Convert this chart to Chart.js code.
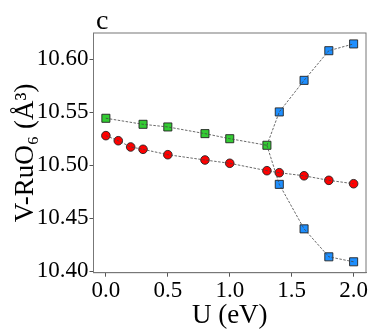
<!DOCTYPE html>
<html>
<head>
<meta charset="utf-8">
<script src="https://cdn.jsdelivr.net/npm/chart.js@4.4.0/dist/chart.umd.min.js"></script>
<style>
  body { margin: 0; background: #fff; }
  #wrap { width: 374px; height: 334px; }
</style>
</head>
<body>
<div id="wrap"><canvas id="grafico" width="374" height="334"></canvas></div>
<script>
// valores
const uVermelho = [0, 0.1, 0.2, 0.3, 0.5, 0.8, 1.0, 1.3, 1.4, 1.6, 1.8, 2.0];
const vVermelho = [10.5279, 10.5231, 10.5172, 10.515, 10.5099, 10.5049, 10.5018, 10.4948, 10.4929, 10.49, 10.4857, 10.4825];
const uVerde = [0, 0.3, 0.5, 0.8, 1.0, 1.3];
const vVerde = [10.5443, 10.5386, 10.5361, 10.5298, 10.525, 10.5188];
const uAzul = [1.4, 1.6, 1.8, 2.0];
const vAzulCima = [10.5503, 10.5801, 10.6081, 10.6145];
const vAzulBaixo = [10.4819, 10.4399, 10.4135, 10.4088];

const ticksX = [0, 0.5, 1.0, 1.5, 2.0];
const ticksY = [10.40, 10.45, 10.50, 10.55, 10.60];

const fonte = "'Liberation Serif', 'DejaVu Serif', serif";

function pares(xs, ys) {
  return xs.map((x, i) => ({ x: x, y: ys[i] }));
}

// ramos azuis partem do ultimo ponto verde
const ultimoVerde = { x: uVerde[uVerde.length - 1], y: vVerde[vVerde.length - 1] };
const linhaCima = [ultimoVerde].concat(pares(uAzul, vAzulCima));
const linhaBaixo = [ultimoVerde].concat(pares(uAzul, vAzulBaixo));

function linha(dados) {
  return {
    data: dados,
    showLine: true,
    borderColor: "#444",
    borderWidth: 0.8,
    borderDash: [2.5, 1.5],
    pointRadius: 0,
    order: 0,
  };
}

function marcador(dados, cor, estilo, raio) {
  return {
    data: dados,
    showLine: false,
    pointStyle: estilo,
    pointRadius: raio,
    pointBackgroundColor: cor,
    pointBorderColor: "#222",
    pointBorderWidth: 0.9,
    order: 1,
  };
}

const moldura = {
  id: "moldura",
  afterDraw(chart) {
    const { ctx, chartArea: a } = chart;
    ctx.save();
    ctx.strokeStyle = "#777";
    ctx.lineWidth = 1;
    ctx.strokeRect(a.left, a.top, a.right - a.left, a.bottom - a.top);
    ctx.fillStyle = "#000";
    ctx.font = "28px " + fonte;
    ctx.textBaseline = "alphabetic";
    ctx.fillText("c", 96, 29);
    ctx.restore();
  },
};

const grafico = new Chart(document.getElementById("grafico"), {
  type: "scatter",
  data: {
    datasets: [
      linha(pares(uVermelho, vVermelho)),
      linha(pares(uVerde, vVerde)),
      linha(linhaCima),
      linha(linhaBaixo),
      marcador(pares(uVermelho, vVermelho), "#ff0000", "circle", 4.3),
      marcador(pares(uVerde, vVerde), "#33cc33", "rect", 5.7),
      marcador(pares(uAzul, vAzulCima), "#1e8fff", "rect", 5.7),
      marcador(pares(uAzul, vAzulBaixo), "#1e8fff", "rect", 5.7),
    ],
  },
  options: {
    responsive: false,
    animation: false,
    layout: { padding: { top: 33, right: 8, left: 0, bottom: 0 } },
    plugins: { legend: { display: false }, tooltip: { enabled: false } },
    scales: {
      x: {
        type: "linear",
        min: -0.1,
        max: 2.1,
        afterBuildTicks: (s) => { s.ticks = ticksX.map((v) => ({ value: v })); },
        afterFit: (s) => { s.height = 61.3; },
        grid: { drawOnChartArea: false, tickLength: 4, color: "#555" },
        border: { color: "#777" },
        ticks: {
          color: "#000",
          padding: 0,
          maxRotation: 0,
          font: { family: fonte, size: 23 },
          callback: (v) => Number(v).toFixed(1),
        },
        title: {
          display: true,
          text: "U (eV)",
          color: "#000",
          font: { family: fonte, size: 27 },
          padding: { top: 0, bottom: 2 },
        },
      },
      y: {
        type: "linear",
        min: 10.3985,
        max: 10.6248,
        afterBuildTicks: (s) => { s.ticks = ticksY.map((v) => ({ value: v })); },
        afterFit: (s) => { s.width = 93.5; },
        grid: { drawOnChartArea: false, tickLength: 4, color: "#555" },
        border: { color: "#777" },
        ticks: {
          color: "#000",
          padding: 1,
          font: { family: fonte, size: 23 },
          callback: (v) => Number(v).toFixed(2),
        },
        title: {
          display: true,
          text: "V-RuO₆ (Å³)",
          color: "#000",
          font: { family: fonte, size: 27 },
          padding: { top: 10, bottom: 0 },
        },
      },
    },
  },
  plugins: [moldura],
});
</script>
</body>
</html>
